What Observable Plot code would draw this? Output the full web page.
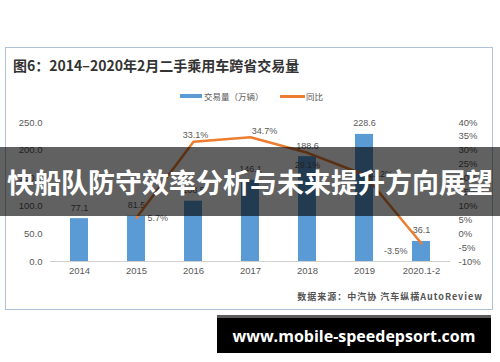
<!DOCTYPE html>
<html><head><meta charset="utf-8">
<script src="https://cdn.jsdelivr.net/npm/d3@7"></script>
<script src="https://cdn.jsdelivr.net/npm/@observablehq/plot@0.6"></script>
<style>
html,body{margin:0;padding:0;background:#fff;}
#wrap{position:relative;width:500px;height:362px;overflow:hidden;font-family:"Liberation Sans","Noto Sans CJK SC",sans-serif;}
#chart svg{position:absolute;left:0;top:0;}
.frame{position:absolute;left:5px;top:47px;width:488px;height:263px;border:1.5px solid #aec3d7;box-sizing:border-box;}
.title{position:absolute;left:13px;top:56px;font:bold 14px "Noto Sans CJK SC",sans-serif;color:#333;line-height:18px;white-space:nowrap;}
.lg-sw{position:absolute;height:4px;}
.lg-tx{position:absolute;font:8.5px "Noto Sans CJK SC",sans-serif;color:#595959;line-height:12px;white-space:nowrap;}
.source{position:absolute;right:17px;top:290px;font:bold 9px "Noto Sans CJK SC",sans-serif;color:#555;letter-spacing:1px;line-height:14px;white-space:nowrap;}
.banner{position:absolute;left:0;top:147px;width:500px;height:69px;background:rgba(0,0,0,0.62);display:flex;align-items:center;justify-content:center;color:#fff;font:bold 27px "Noto Sans CJK SC",sans-serif;white-space:nowrap;}
.site{position:absolute;left:217px;top:315px;width:274px;height:38px;background:#000;border-top:3px solid #5c5c5c;box-sizing:border-box;display:flex;align-items:center;justify-content:center;color:#fff;font:bold 16px "Open Sans",sans-serif;white-space:nowrap;}
</style></head>
<body>
<div id="wrap">
  <div class="frame"></div>
  <div id="chart"></div>
  <div class="title">图6：2014–2020年2月二手乘用车跨省交易量</div>
  <div class="lg-sw" style="left:180px;top:94px;width:22px;background:#5B9BD5;"></div>
  <div class="lg-tx" style="left:204px;top:90px;">交易量（万辆）</div>
  <div class="lg-sw" style="left:280px;top:94.5px;width:25px;height:3px;background:#ED7D31;"></div>
  <div class="lg-tx" style="left:306px;top:90px;">同比</div>
  <div class="source">数据来源：中汽协 汽车纵横AutoReview</div>
  <div class="banner">快船队防守效率分析与未来提升方向展望</div>
  <div class="site">www.mobile-speedepsort.com</div>
</div>
<script>
const years = ["2014","2015","2016","2017","2018","2019","2020.1-2"];
const volume = [77.1, 81.5, 108.5, 146.1, 188.6, 228.6, 36.1];
const yoy = [null, 5.7, 33.1, 34.7, 29.1, 21.2, -3.5];
const leftTicks = [0, 50, 100, 150, 200, 250];
const rightTicks = [-10, -5, 0, 5, 10, 15, 20, 25, 30, 35, 40];

const L0 = leftTicks[0], L1 = leftTicks[leftTicks.length - 1];
const R0 = rightTicks[0], R1 = rightTicks[rightTicks.length - 1];
const toLeft = p => L0 + (p - R0) * (L1 - L0) / (R1 - R0);
const toRight = v => R0 + (v - L0) * (R1 - R0) / (L1 - L0);

const data = years.map((year, i) => ({year, volume: volume[i], yoy: yoy[i]}));
const lineData = data.filter(d => d.yoy != null);

const placement = {
  "2015": {dx: 11, dy: 0, textAnchor: "start"},
  "2016": {dx: 2, dy: -7, textAnchor: "middle"},
  "2017": {dx: 14, dy: -6, textAnchor: "middle"},
  "2018": {dx: 0, dy: 12, textAnchor: "middle"},
  "2019": {dx: 3, dy: -1, textAnchor: "start"},
  "2020.1-2": {dx: -14, dy: 8, textAnchor: "end"}
};

const yoyLabels = lineData.map(d => Plot.text([d], {
  x: "year", y: r => toLeft(r.yoy), text: r => r.yoy.toFixed(1) + "%",
  fill: "#595959", fontSize: 9, ...placement[d.year]
}));

const chart = Plot.plot({
  width: 500, height: 362,
  marginLeft: 50, marginRight: 50, marginTop: 122, marginBottom: 101,
  style: {background: "transparent", fontFamily: "'Liberation Sans', Arial, sans-serif", fontSize: "9.5px", color: "#595959", overflow: "visible"},
  x: {domain: years, paddingInner: 0.685, paddingOuter: 0.3425, label: null},
  y: {domain: [L0, L1], label: null},
  marks: [
    Plot.axisX({tickSize: 0, tickPadding: 6, label: null, fontSize: 9.5}),
    Plot.axisY({ticks: leftTicks, tickSize: 0, tickPadding: 8, tickFormat: d => d.toFixed(1), label: null, fontSize: 9.5}),
    Plot.axisY({anchor: "right", ticks: rightTicks.map(toLeft), tickSize: 0, tickPadding: 8, tickFormat: v => Math.round(toRight(v)) + "%", label: null, fontSize: 9.5}),
    Plot.ruleY([L0], {stroke: "#d0d0d0", strokeWidth: 1}),
    Plot.barY(data, {x: "year", y: "volume", fill: "#5B9BD5"}),
    Plot.text(data, {x: "year", y: "volume", text: d => d.volume.toFixed(1), dy: -11, fill: "#595959", fontSize: 9}),
    Plot.line(lineData, {x: "year", y: d => toLeft(d.yoy), stroke: "#ED7D31", strokeWidth: 2.5}),
    ...yoyLabels
  ]
});
document.getElementById("chart").appendChild(chart);
</script>
</body></html>
